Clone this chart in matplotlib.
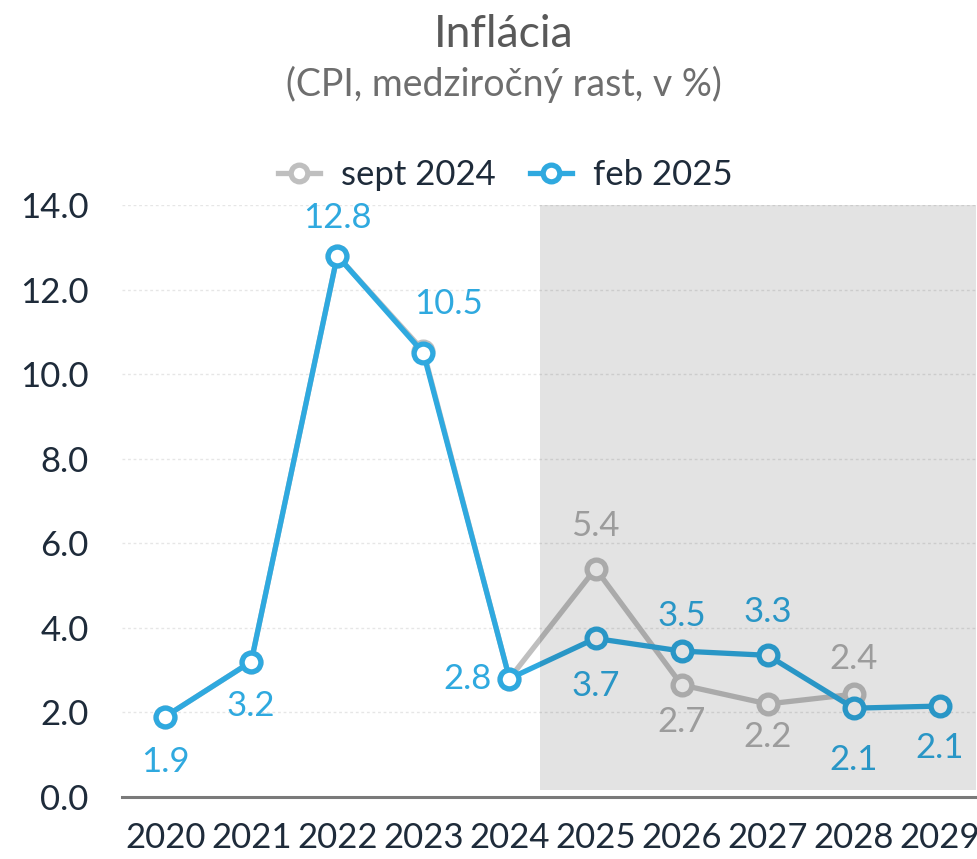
import matplotlib
matplotlib.use("Agg")
import matplotlib.pyplot as plt
from matplotlib.patches import Rectangle

plt.rcParams['font.family'] = ['Lato', 'DejaVu Sans']

years = [2020, 2021, 2022, 2023, 2024, 2025, 2026, 2027, 2028, 2029]
feb_2025 = [1.9, 3.2, 12.8, 10.5, 2.8, 3.75, 3.45, 3.35, 2.1, 2.15]
feb_labels = ["1.9", "3.2", "12.8", "10.5", "2.8", "3.7", "3.5", "3.3", "2.1", "2.1"]
sept_years = [2020, 2021, 2022, 2023, 2024, 2025, 2026, 2027, 2028]
sept_2024 = [1.9, 3.2, 12.8, 10.55, 2.8, 5.4, 2.65, 2.2, 2.43]
sept_labels = [None, None, None, None, None, "5.4", "2.7", "2.2", "2.4"]
yticks = [0, 2, 4, 6, 8, 10, 12, 14]
forecast_start = 2024.36

# label placement offsets (points)
feb_offsets = [(0, -33), (0, -32), (0, 27), (18, 35), (-30, 0), (0, -34), (0, 25), (0, 31), (0, -37), (0, -30)]
sept_offsets = [None, None, None, None, None, (0, 31), (0, -27), (0, -24), (0, 25)]

BLUE = "#2FA9DF"
GRAY = "#BFBFBF"
DARK = "#1E2B3A"

fig = plt.figure(figsize=(9.77, 8.59), dpi=100)
ax = fig.add_axes([0.125, 0.0722, 0.881, 0.6892])

ax.set_xlim(2019.5, 2029.5)
ax.set_ylim(0, 14)

for y in yticks[1:]:
    ax.axhline(y, color="#E6E6E6", lw=1.0, ls=(0, (2, 2)), zorder=1)

ax.plot(sept_years, sept_2024, color=GRAY, lw=3.8, marker="o", ms=13.5,
        mfc="white", mec=GRAY, mew=3.8, zorder=3, label="sept 2024", solid_joinstyle="round")
ax.plot(years, feb_2025, color=BLUE, lw=3.8, marker="o", ms=13.5,
        mfc="white", mec=BLUE, mew=3.8, zorder=4, label="feb 2025", solid_joinstyle="round")

for x, v, lab, off in zip(sept_years, sept_2024, sept_labels, sept_offsets):
    if lab:
        ax.annotate(lab, (x, v), xytext=off, textcoords="offset points",
                    ha="center", va="center", fontsize=25, color="#B0B0B0", zorder=5)
for x, v, lab, off in zip(years, feb_2025, feb_labels, feb_offsets):
    ax.annotate(lab, (x, v), xytext=off, textcoords="offset points",
                ha="center", va="center", fontsize=25, color=BLUE, zorder=5)

ax.add_patch(Rectangle((forecast_start, 0.17), 2029.42 - forecast_start, 14 - 0.17,
                       facecolor="black", alpha=0.11, edgecolor="none", zorder=6))

for s in ["top", "right", "left"]:
    ax.spines[s].set_visible(False)
ax.spines["bottom"].set_color("#7A7A7A")
ax.spines["bottom"].set_linewidth(2.2)
ax.spines["bottom"].set_zorder(7)

ax.set_xticks(years)
ax.set_xticklabels([str(y) for y in years])
ax.set_yticks(yticks)
ax.set_yticklabels([f"{y:.1f}" for y in yticks])
ax.tick_params(axis="x", length=0, pad=18, labelsize=25, labelcolor=DARK)
ax.tick_params(axis="y", length=0, pad=24, labelsize=25, labelcolor=DARK)
for t in ax.get_yticklabels():
    t.set_ha("right")

fig.text(0.5155, 0.960, "Inflácia", ha="center", va="center", fontsize=32, color="#595959")
fig.text(0.5155, 0.902, "(CPI, medziročný rast, v %)", ha="center", va="center", fontsize=27, color="#6E6E6E")

leg = ax.legend(loc="center", bbox_to_anchor=(0.517, 0.7965), bbox_transform=fig.transFigure,
                ncol=2, frameon=False, fontsize=25, labelcolor=DARK, handlelength=1.2,
                columnspacing=1.0, handletextpad=0.6)
for h in leg.legend_handles:
    h.set_markersize(12)

fig.savefig("out.png", dpi=100)
